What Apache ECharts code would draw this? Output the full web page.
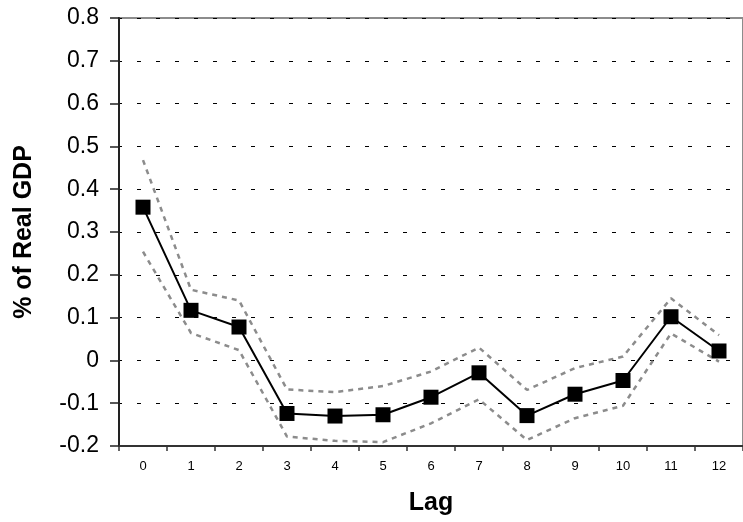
<!DOCTYPE html>
<html><head><meta charset="utf-8">
<script src="https://cdn.jsdelivr.net/npm/echarts@6/dist/echarts.min.js"></script>
<style>html,body{margin:0;padding:0;background:#fff}#c{width:743px;height:522px}</style>
</head><body><div id="c"></div>
<script>
const lags = ['0','1','2','3','4','5','6','7','8','9','10','11','12'];
const estimate = [0.358, 0.117, 0.078, -0.124, -0.130, -0.127, -0.086, -0.029, -0.129, -0.079, -0.047, 0.102, 0.022];
const upperBand = [0.468, 0.165, 0.140, -0.068, -0.074, -0.060, -0.026, 0.030, -0.069, -0.018, 0.009, 0.145, 0.059];
const lowerBand = [0.254, 0.064, 0.024, -0.178, -0.188, -0.191, -0.147, -0.091, -0.186, -0.135, -0.106, 0.063, -0.003];
const yTicks = {min: -0.2, max: 0.8, interval: 0.1};

const chart = echarts.init(document.getElementById('c'), null, {renderer: 'canvas'});
const bandStyle = {color: '#8c8c8c', width: 2.5, type: [5, 5]};
chart.setOption({
  animation: false,
  textStyle: {fontFamily: 'Liberation Sans, Arial, sans-serif'},
  grid: {left: 119, right: -4, top: 18, bottom: 76, show: true, borderColor: '#8c8c8c', borderWidth: 2, backgroundColor: 'transparent'},
  xAxis: {
    type: 'category', data: lags, boundaryGap: true,
    name: 'Lag', nameLocation: 'middle', nameGap: 45,
    nameTextStyle: {fontSize: 25, fontWeight: 'bold', color: '#000'},
    axisLine: {onZero: false, lineStyle: {color: '#333', width: 2}},
    axisTick: {show: true, length: 5, alignWithLabel: false, lineStyle: {color: '#333', width: 1.5}},
    axisLabel: {fontSize: 13, color: '#000', margin: 14},
    splitLine: {show: false}
  },
  yAxis: {
    type: 'value', min: yTicks.min, max: yTicks.max, interval: yTicks.interval,
    name: '% of Real GDP', nameLocation: 'middle', nameGap: 82, nameRotate: 90,
    nameTextStyle: {fontSize: 25, fontWeight: 'bold', color: '#000'},
    axisLine: {show: true, lineStyle: {color: '#222', width: 2}},
    axisTick: {show: true, length: 9, lineStyle: {color: '#222', width: 1.5}},
    axisLabel: {fontSize: 23, color: '#000', margin: 20,
      formatter: v => { const r = Math.round(v * 10) / 10; return r === 0 ? '0' : r.toFixed(1); }},
    splitLine: {show: true, lineStyle: {color: '#000', width: 1, type: [4, 15], dashOffset: -18}}
  },
  series: [
    {type: 'line', data: upperBand, symbol: 'none', lineStyle: bandStyle, z: 2},
    {type: 'line', data: lowerBand, symbol: 'none', lineStyle: bandStyle, z: 2},
    {type: 'line', data: estimate, symbol: 'rect', symbolSize: 15,
      itemStyle: {color: '#000'}, lineStyle: {color: '#000', width: 2}, z: 3}
  ]
});
</script></body></html>
